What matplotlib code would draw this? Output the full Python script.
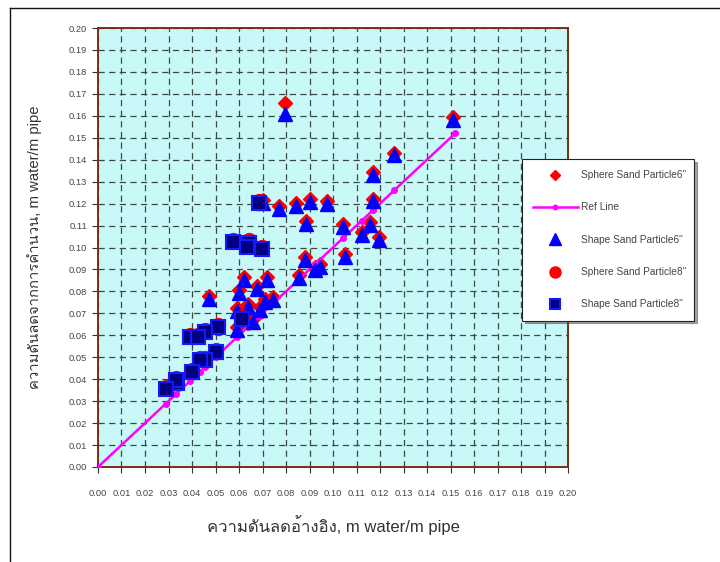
import matplotlib
matplotlib.use("Agg")
import matplotlib.pyplot as plt
import numpy as np
from matplotlib import font_manager
from matplotlib.ft2font import FT2Font
from matplotlib.lines import Line2D

# find a font that has Thai glyphs
thai_font = None
for f in font_manager.fontManager.ttflist:
    try:
        if ord('ค') in FT2Font(f.fname).get_charmap():
            thai_font = f.name
            break
    except Exception:
        pass

fams = ['Liberation Sans']
if thai_font:
    fams.append(thai_font)
fams.append('DejaVu Sans')
plt.rcParams['font.family'] = fams

# shape 6" (triangles)
shape6_x = [0.0796, 0.151, 0.126, 0.117, 0.117, 0.0702, 0.0770, 0.0843, 0.0902, 0.0885,
            0.0974, 0.1043, 0.1123, 0.1157, 0.1196, 0.0881, 0.1051, 0.0923, 0.0945, 0.0855,
            0.0621, 0.0719, 0.0600, 0.0677, 0.0472, 0.0745, 0.0711, 0.0638, 0.0591, 0.0689,
            0.0660, 0.0591]
shape6_y = [0.161, 0.158, 0.142, 0.133, 0.121, 0.1203, 0.1176, 0.1190, 0.1208, 0.1107,
            0.1199, 0.1093, 0.1057, 0.1102, 0.1034, 0.0943, 0.0957, 0.0897, 0.0911, 0.0861,
            0.0852, 0.0852, 0.0793, 0.0811, 0.0765, 0.0761, 0.0752, 0.0729, 0.0711, 0.0715,
            0.0661, 0.0624]
# sphere 6" (diamonds)
sphere6_x = shape6_x
sphere6_y = [0.166, 0.1593, 0.1432, 0.1342, 0.1222, 0.1215, 0.1189, 0.1202, 0.1220, 0.1120,
             0.1211, 0.1105, 0.1069, 0.1114, 0.1046, 0.0955, 0.0969, 0.0909, 0.0923, 0.0873,
             0.0864, 0.0864, 0.0805, 0.0823, 0.0777, 0.0773, 0.0764, 0.0741, 0.0723, 0.0727,
             0.0673, 0.0636]

# shape 8" (squares)
shape8_x = [0.0685, 0.0574, 0.0643, 0.0634, 0.0698, 0.0613, 0.0511, 0.0455, 0.0391, 0.0426,
            0.0502, 0.0455, 0.0434, 0.0400, 0.0336, 0.0332, 0.0289]
shape8_y = [0.1203, 0.1025, 0.1021, 0.1002, 0.0993, 0.0674, 0.0638, 0.0615, 0.0592, 0.0592,
            0.0524, 0.0487, 0.0487, 0.0433, 0.0383, 0.0396, 0.0355]
# sphere 8" (circles)
sphere8_x = shape8_x
sphere8_y = [0.1214, 0.1036, 0.1032, 0.1013, 0.1004, 0.0685, 0.0649, 0.0626, 0.0603, 0.0603,
             0.0535, 0.0498, 0.0498, 0.0444, 0.0394, 0.0407, 0.0366]

# reference line points
ref_x = [0.0, 0.0289, 0.0332, 0.0391, 0.0434, 0.0455, 0.0502, 0.0591, 0.0638, 0.0689,
         0.0745, 0.0855, 0.0923, 0.1043, 0.1123, 0.117, 0.126, 0.152]
ref_y = ref_x

labels = ['Sphere Sand Particle6"', 'Ref Line', 'Shape Sand Particle6"',
          'Sphere Sand Particle8"', 'Shape Sand Particle8"']
xlabel = 'ความดันลดอ้างอิง, m water/m pipe'
ylabel = 'ความดันลดจากการคำนวน, m water/m pipe'

fig = plt.figure(figsize=(7.2, 5.62), dpi=100)
ax = fig.add_axes([98/720, 1-467/562, 470/720, 439/562])
ax.set_facecolor('#C8F8F8')

h1, = ax.plot(sphere6_x, sphere6_y, 'D', color='#FF0000', ms=7, mec='#FF0000', ls='none', zorder=3)
h2, = ax.plot(ref_x, ref_y, '-o', color='#FF00FF', lw=1.8, ms=4, zorder=4)
h3, = ax.plot(shape6_x, shape6_y, '^', color='#0000FF', ms=10.5, mec='#0000FF', ls='none', zorder=5)
h4, = ax.plot(sphere8_x, sphere8_y, 'o', color='#FF0000', ms=10, mec='#FF0000', ls='none', zorder=6)
h5, = ax.plot(shape8_x, shape8_y, 's', color='#000080', ms=9.5, mec='#1818FF', mew=1.5, ls='none', zorder=7)

ax.set_xlim(0, 0.2)
ax.set_ylim(0, 0.2)
ticks = np.arange(0, 0.2001, 0.01)
ax.set_xticks(ticks)
ax.set_yticks(ticks)
ax.set_xticklabels(['%.2f' % t for t in ticks])
ax.set_yticklabels(['%.2f' % t for t in ticks])
ax.tick_params(axis='both', direction='out', length=4, width=0.8, color='#333333',
               labelsize=6.7, labelcolor='#444444')
ax.tick_params(axis='x', pad=12)
ax.tick_params(axis='y', pad=4)
ax.grid(True, color='#3A4A42', lw=0.9, ls=(0, (5, 3.5)))
ax.set_axisbelow(True)
for s in ax.spines.values():
    s.set_color('#7A3010')
    s.set_linewidth(1.4)

ax.set_xlabel(xlabel, fontsize=12, color='#333333', labelpad=12)
ax.set_ylabel(ylabel, fontsize=10.7, color='#333333', labelpad=19)

leg = fig.legend([h1, h2, h3, h4, h5], labels, loc='upper left',
                 bbox_to_anchor=(522/720, 1-159/562, 172/720, 0), mode='expand',
                 borderaxespad=0, fontsize=7.3, labelspacing=2.2, handlelength=4.4,
                 handletextpad=0.3, borderpad=1.1, fancybox=False, shadow=True,
                 framealpha=1, edgecolor='#222222', markerscale=0.8, numpoints=1)
leg.get_frame().set_linewidth(0.8)
for t in leg.get_texts():
    t.set_color('#444444')

# outer frame
fig.add_artist(Line2D([10/720, 10/720], [0, 1-8/562], color='#111111', lw=1, transform=fig.transFigure))
fig.add_artist(Line2D([10/720, 1], [1-8/562, 1-8/562], color='#111111', lw=1, transform=fig.transFigure))

fig.savefig('out.png', dpi=100)
